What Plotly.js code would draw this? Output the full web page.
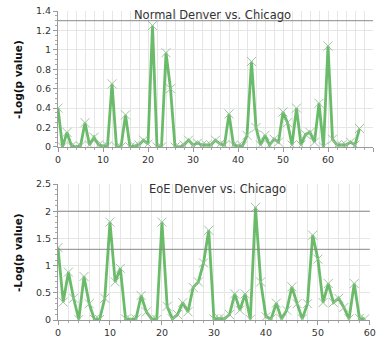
<!DOCTYPE html>
<html><head><meta charset="utf-8">
<script src="https://cdn.plot.ly/plotly-3.0.1.min.js"></script>
<style>html,body{margin:0;padding:0;background:#fff;}#chart{width:378px;height:341px;}</style>
</head><body><div id="chart"></div>
<script>
const normalTitle = "Normal Denver vs. Chicago";
const eoeTitle = "EoE Denver vs. Chicago";
const yTitle = "-Log(p value)";
const normalValues = [0.40,0.00,0.15,0.01,0.00,0.01,0.25,0.02,0.10,0.02,0.01,0.01,0.65,0.00,0.00,0.33,0.00,0.01,0.02,0.07,
  0.03,1.25,0.00,0.00,0.97,0.60,0.00,0.00,0.02,0.07,0.02,0.04,0.02,0.02,0.02,0.07,0.03,0.02,0.34,0.02,
  0.01,0.01,0.12,0.88,0.20,0.02,0.12,0.02,0.08,0.05,0.36,0.25,0.02,0.40,0.02,0.13,0.15,0.05,0.45,0.00,
  1.04,0.08,0.02,0.02,0.02,0.05,0.02,0.19];
const eoeValues = [1.33,0.33,0.88,0.40,0.01,0.80,0.30,0.01,0.01,0.40,1.80,0.70,0.95,0.02,0.01,0.02,0.45,0.15,0.02,0.01,
  1.80,0.25,0.02,0.10,0.32,0.15,0.60,0.70,1.05,1.65,0.02,0.03,0.02,0.10,0.48,0.18,0.48,0.01,2.07,0.70,
  0.06,0.02,0.31,0.02,0.18,0.61,0.30,0.02,0.30,1.56,1.12,0.32,0.67,0.32,0.40,0.23,0.02,0.67,0.03,0.02];
const normalThresholds = [1.3];
const eoeThresholds = [1.3, 2.0];
const normalX = normalValues.map((_, i) => i);
const eoeX = eoeValues.map((_, i) => i);

const lineStyle = {color: 'rgba(80,175,80,0.85)', width: 2.8};
const markerStyle = {symbol: 'x-thin-open', size: 9, color: 'rgba(150,190,150,0.9)', line: {color: 'rgba(150,190,150,0.9)', width: 1}};

const traces = [
  {x: normalX, y: normalValues, xaxis: 'x', yaxis: 'y', mode: 'lines+markers', line: lineStyle, marker: markerStyle, showlegend: false, hoverinfo: 'skip'},
  {x: eoeX, y: eoeValues, xaxis: 'x2', yaxis: 'y2', mode: 'lines+markers', line: lineStyle, marker: markerStyle, showlegend: false, hoverinfo: 'skip'}
];

const tickFont = {family: 'DejaVu Sans, sans-serif', size: 9.5, color: '#333'};
const gridCol = '#e6e6e6';
function xax(range, domain, anchor) {
  return {domain: domain, range: range, anchor: anchor, dtick: 10, tick0: 0, showgrid: true, gridcolor: gridCol, gridwidth: 1,
    zeroline: false, showline: true, linecolor: '#999', ticks: 'outside', ticklen: 4, tickcolor: '#999', tickfont: tickFont,
    minor: {dtick: 2, showgrid: true, gridcolor: gridCol, ticks: 'outside', ticklen: 2, tickcolor: '#aaa'}, fixedrange: true};
}
function yax(range, domain, anchor, dtick, mdtick) {
  return {domain: domain, range: range, anchor: anchor, dtick: dtick, tick0: 0, showgrid: true, gridcolor: gridCol,
    zeroline: false, showline: true, linecolor: '#999', ticks: 'outside', ticklen: 4, tickcolor: '#999', tickfont: tickFont,
    minor: {dtick: mdtick, showgrid: false, ticks: 'outside', ticklen: 2, tickcolor: '#aaa'}, fixedrange: true};
}

const shapes = [];
normalThresholds.forEach(v => shapes.push({type: 'line', xref: 'x domain', yref: 'y', x0: 0, x1: 1, y0: v, y1: v, line: {color: '#888', width: 1}}));
eoeThresholds.forEach(v => shapes.push({type: 'line', xref: 'x2 domain', yref: 'y2', x0: 0, x1: 1, y0: v, y1: v, line: {color: '#888', width: 1}}));

const titleFont = {family: 'DejaVu Sans, sans-serif', size: 11.5, color: '#333'};
const yTitleFont = {family: 'DejaVu Sans, sans-serif', size: 10.5, color: '#111', weight: 'bold'};
const annotations = [
  {text: normalTitle, xref: 'x domain', yref: 'y domain', x: 0.49, y: 0.97, xanchor: 'center', yanchor: 'middle', showarrow: false, font: titleFont},
  {text: eoeTitle, xref: 'x2 domain', yref: 'y2 domain', x: 0.51, y: 0.96, xanchor: 'center', yanchor: 'middle', showarrow: false, font: titleFont},
  {text: yTitle, xref: 'paper', yref: 'y domain', x: -0.127, y: 0.5, xanchor: 'center', yanchor: 'middle', textangle: -90, showarrow: false, font: yTitleFont},
  {text: yTitle, xref: 'paper', yref: 'y2 domain', x: -0.127, y: 0.5, xanchor: 'center', yanchor: 'middle', textangle: -90, showarrow: false, font: yTitleFont}
];

const layout = {
  width: 378, height: 341,
  margin: {l: 58, r: 5, t: 11, b: 21},
  paper_bgcolor: '#fff', plot_bgcolor: '#fff',
  xaxis: xax([0, 70], [0, 1], 'y'),
  yaxis: yax([0, 1.4], [0.56, 1], 'x', 0.2, 0.05),
  xaxis2: xax([0, 60], [0, 0.99], 'y2'),
  yaxis2: yax([0, 2.5], [0, 0.44], 'x2', 0.5, 0.1),
  shapes: shapes,
  annotations: annotations
};
Plotly.newPlot('chart', traces, layout, {staticPlot: true, displayModeBar: false});
</script></body></html>
